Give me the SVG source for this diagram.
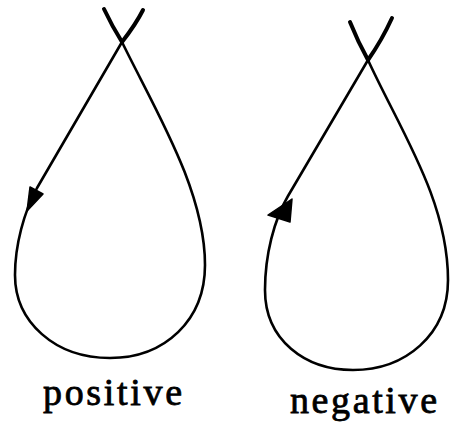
<svg xmlns="http://www.w3.org/2000/svg" width="461" height="431" viewBox="0 0 461 431">
<style>
.loop{fill:none;stroke:#000;stroke-width:2.6;stroke-linecap:round;stroke-linejoin:round}
.arm{fill:none;stroke:#000;stroke-width:4;stroke-linecap:round}
.head{fill:#000;stroke:#000;stroke-width:1.5;stroke-linejoin:round}
.lbl{font-family:"Liberation Serif","Times New Roman",serif;font-size:38px;fill:#000;stroke:#000;stroke-width:0.8}
</style>
<rect width="461" height="431" fill="#fff"/>
<g id="positive">
<path class="loop" d="M122,42 L37,188 C24,212 15,245 15,275 C15,322 55,358 110,358 C165,358 205,320 205,265 C205,190 155,110 122,42"/>
<path class="arm" d="M143,10 Q136,24 122,42"/>
<path class="arm" d="M104,9 Q112,26 122,42"/>
<polygon class="head" points="27,211 30,187 43,194"/>
<text class="lbl" x="43" y="405" textLength="139" lengthAdjust="spacing">positive</text>
</g>
<g id="negative">
<path class="loop" d="M368,60 L288,196 C274,220 265,255 265,290 C265,340 305,370 353,370 C405,370 448,335 448,280 C448,200 400,130 368,60"/>
<path class="arm" d="M392,18 Q382,40 368,60"/>
<path class="arm" d="M350,22 Q358,42 368,60"/>
<polygon class="head" points="292,199 268,215 290,222"/>
<text class="lbl" x="290" y="413" textLength="147" lengthAdjust="spacing">negative</text>
</g>
</svg>
